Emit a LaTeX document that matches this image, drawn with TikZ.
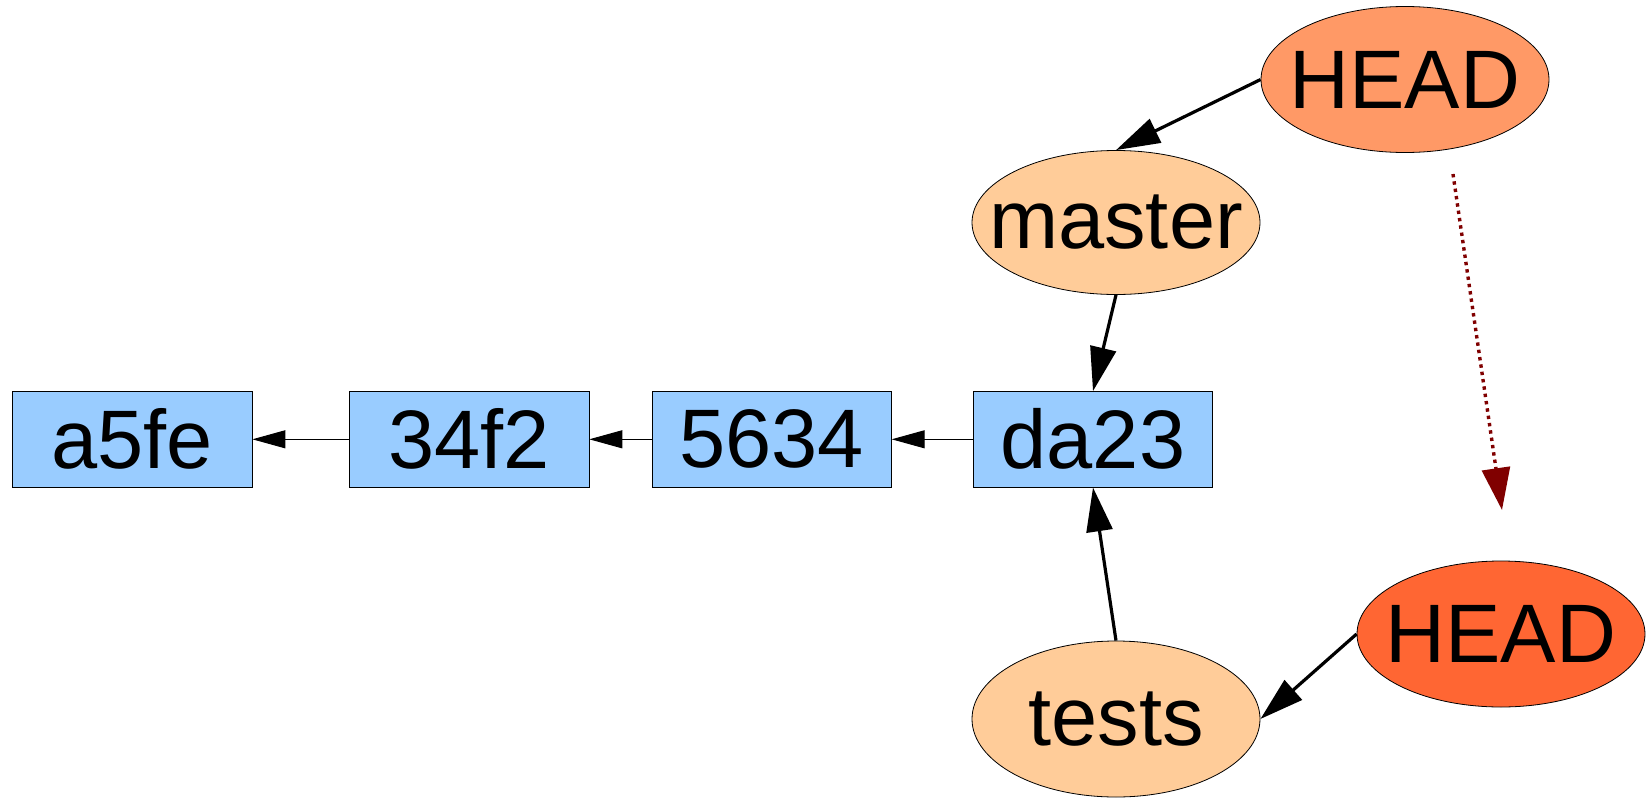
\documentclass[tikz,border=0pt]{standalone}
\usepackage{fontspec}
\setmainfont{Liberation Sans}
\usetikzlibrary{arrows.meta,shapes.geometric}
\definecolor{commitblue}{RGB}{153,204,255}
\definecolor{headorange}{RGB}{255,153,102}
\definecolor{branchpeach}{RGB}{255,204,153}
\definecolor{headred}{RGB}{255,102,51}
\definecolor{movered}{RGB}{128,0,0}
\begin{document}
\begin{tikzpicture}[x=0.5pt,y=-0.5pt,
		commit/.style={draw, line width=0.4pt, fill=commitblue, minimum width=119.7pt, minimum height=47.8pt, inner sep=0pt, font=\fontsize{41.5}{45}\selectfont},
		ref/.style={ellipse, draw, line width=0.4pt, minimum width=144pt, minimum height=72pt, inner xsep=-20pt, inner ysep=0pt, font=\fontsize{41.5}{45}\selectfont},
		parentarr/.style={line width=0.5pt, -{Triangle[length=16.5pt,width=9pt]}},
		refarr/.style={line width=1.6pt, -{Triangle[length=22pt,width=13pt]}},
		movearr/.style={movered, line width=1.7pt, dash pattern=on 1.7pt off 2pt, -{Triangle[length=21pt,width=14pt]}}]
	\useasboundingbox (0,0) rectangle (1646,798);
	
	% Commits
	\node[commit] (a5fe) at (132.3,439.3) {a5fe};
	\node[commit] (c34f2) at (469.2,439.3) {34f2};
	\node[commit] (c5634) at (771.6,439.3) {5634};
	\node[commit] (da23) at (1093,439.3) {da23};
	
	% Branches and HEAD
	\node[ref, fill=branchpeach] (master) at (1116,222.5) {master};
	\node[ref, fill=headorange, minimum height=73pt] (head) at (1405,79.5) {HEAD};
	\node[ref, fill=branchpeach, minimum height=78pt] (tests) at (1116,719) {tests};
	\node[ref, fill=headred, minimum height=73pt] (newhead) at (1501,634) {HEAD};
	
	% Parent links
	\draw[parentarr] (c34f2) -- (a5fe);
	\draw[parentarr] (c5634) -- (c34f2);
	\draw[parentarr] (da23) -- (c5634);
	
	% Refs
	\draw[refarr] (head.west) -- (master.north);
	\draw[refarr] (master.south) -- (da23.north);
	\draw[refarr] (tests.north) -- (da23.south);
	\draw[refarr] (newhead.west) -- (tests.east);
	
	% HEAD moves
	\coordinate (movefrom) at (1453,174);
	\coordinate (moveto) at (1502,510);
	\draw[movearr] (movefrom) -- (moveto);
\end{tikzpicture}
\end{document}
